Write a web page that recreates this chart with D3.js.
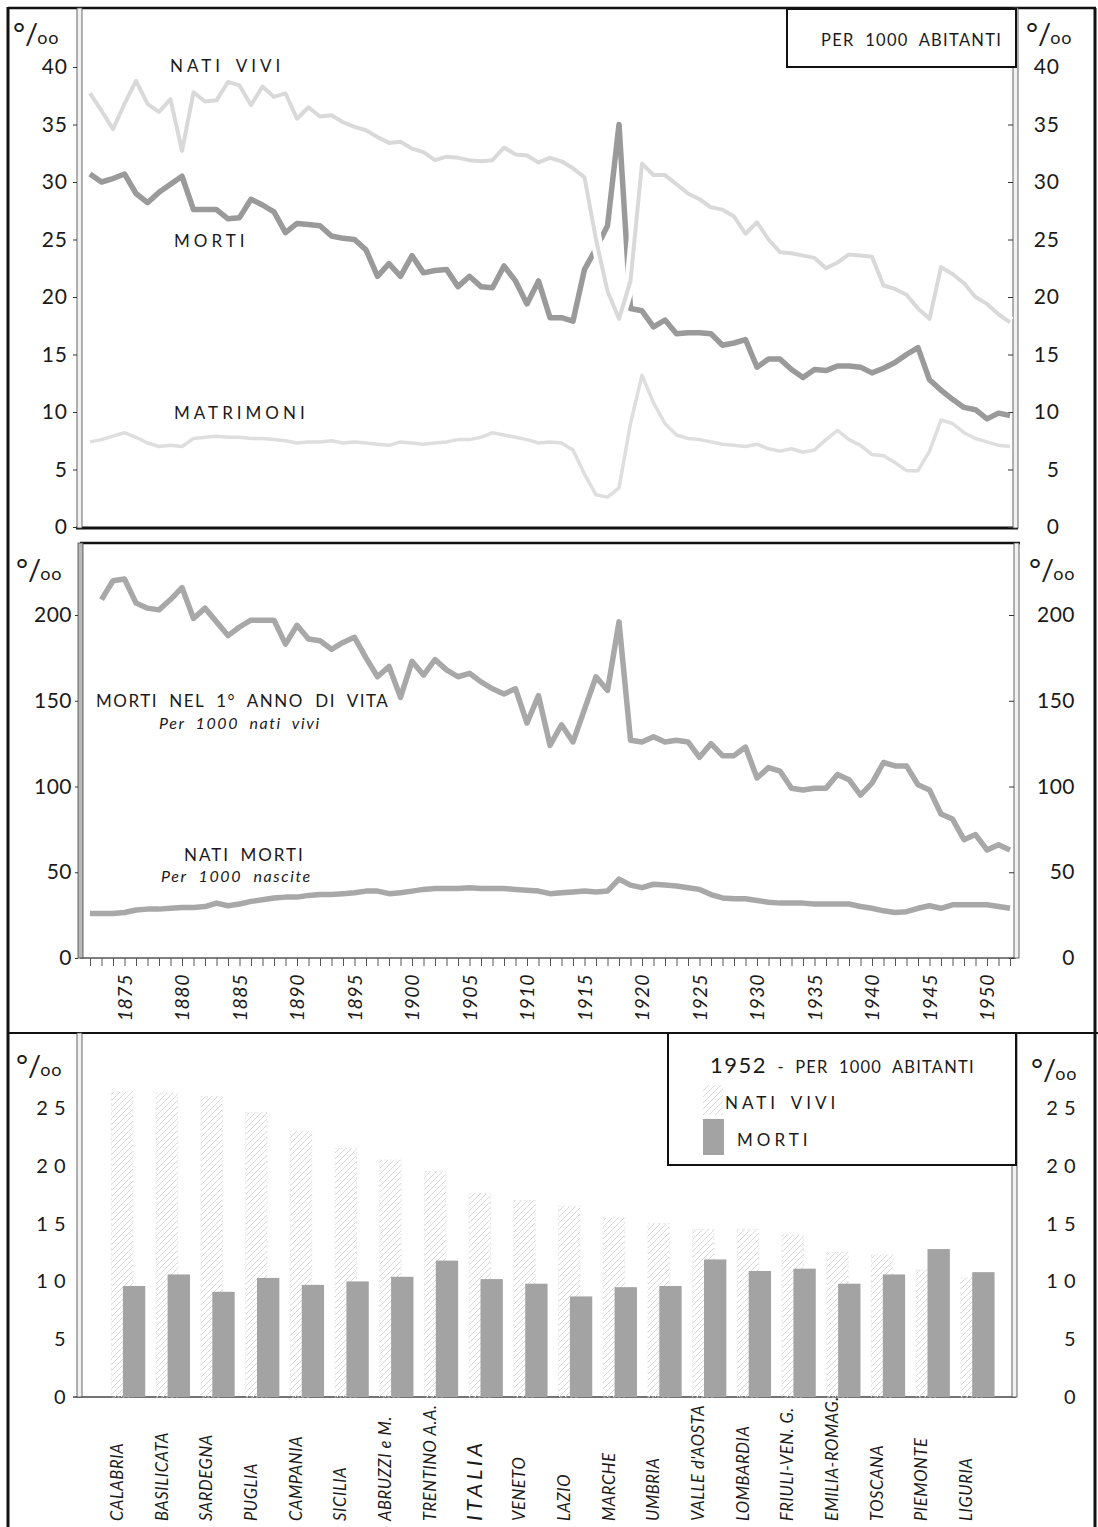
<!DOCTYPE html>
<html>
<head>
<meta charset="utf-8">
<script src="https://cdn.jsdelivr.net/npm/d3@7"></script>
<style>
  body { margin: 0; background: #fff; }
  svg text { font-family: Lato, "DejaVu Sans", sans-serif; fill: #1a1a1a; }
</style>
</head>
<body>
<div id="viz"></div>
<script>
// anni 1872-1952
var years = d3.range(1872, 1953);

// per 1000 abitanti
var natiVivi = [37.7, 36.2, 34.6, 36.8, 38.8, 36.8, 36.1, 37.2, 32.7, 37.8,
  37.0, 37.1, 38.7, 38.4, 36.7, 38.3, 37.4, 37.7, 35.5, 36.5,
  35.7, 35.8, 35.2, 34.8, 34.5, 33.9, 33.4, 33.5, 32.9, 32.6,
  31.9, 32.2, 32.1, 31.9, 31.8, 31.9, 33.0, 32.4, 32.3, 31.7,
  32.1, 31.8, 31.2, 30.4, 25.0, 20.5, 18.1, 21.4, 31.6, 30.6,
  30.6, 29.8, 29.0, 28.5, 27.8, 27.6, 27.0, 25.5, 26.5, 25.0,
  23.9, 23.8, 23.6, 23.4, 22.5, 23.0, 23.7, 23.6, 23.5, 21.0,
  20.7, 20.2, 19.0, 18.1, 22.6, 22.0, 21.2, 20.0, 19.4, 18.5,
  17.8];

var morti = [30.7, 30.0, 30.3, 30.7, 29.0, 28.2, 29.1, 29.8, 30.5, 27.6,
  27.6, 27.6, 26.8, 26.9, 28.5, 28.0, 27.4, 25.6, 26.4, 26.3,
  26.2, 25.3, 25.1, 25.0, 24.1, 21.8, 22.9, 21.8, 23.6, 22.1,
  22.3, 22.4, 20.9, 21.8, 20.9, 20.8, 22.7, 21.4, 19.4, 21.4,
  18.2, 18.2, 17.9, 22.4, 24.2, 26.2, 35.0, 19.0, 18.8, 17.4,
  18.0, 16.8, 16.9, 16.9, 16.8, 15.8, 16.0, 16.3, 13.9, 14.6,
  14.6, 13.7, 13.0, 13.7, 13.6, 14.0, 14.0, 13.9, 13.4, 13.8,
  14.3, 15.0, 15.6, 12.8, 11.9, 11.1, 10.4, 10.2, 9.4, 9.9,
  9.7];

var matrimoni = [7.4, 7.6, 7.9, 8.2, 7.8, 7.3, 7.0, 7.1, 7.0, 7.7,
  7.8, 7.9, 7.8, 7.8, 7.7, 7.7, 7.6, 7.5, 7.3, 7.4,
  7.4, 7.5, 7.3, 7.4, 7.3, 7.2, 7.1, 7.4, 7.3, 7.2,
  7.3, 7.4, 7.6, 7.6, 7.8, 8.2, 8.0, 7.8, 7.6, 7.3,
  7.4, 7.3, 6.7, 4.6, 2.8, 2.6, 3.4, 9.0, 13.2, 10.8,
  9.0, 8.0, 7.7, 7.6, 7.4, 7.2, 7.1, 7.0, 7.2, 6.8,
  6.6, 6.8, 6.5, 6.7, 7.6, 8.4, 7.6, 7.1, 6.3, 6.2,
  5.6, 4.9, 4.9, 6.6, 9.3, 9.0, 8.2, 7.7, 7.4, 7.1,
  7.0];

// morti nel 1° anno di vita, per 1000 nati vivi (1872 mancante)
var mortiPrimoAnno = [null, 209, 220, 221, 207, 204, 203, 209, 216, 198,
  204, 196, 188, 193, 197, 197, 197, 183, 194, 186,
  185, 180, 184, 187, 175, 164, 170, 152, 173, 165,
  174, 168, 164, 166, 161, 157, 154, 157, 137, 153,
  124, 136, 126, 145, 164, 156, 196, 127, 126, 129,
  126, 127, 126, 117, 125, 118, 118, 123, 105, 111,
  109, 99, 98, 99, 99, 107, 104, 95, 102, 114,
  112, 112, 101, 98, 84, 81, 69, 72, 63, 66,
  63];

// nati morti, per 1000 nascite
var natiMorti = [26, 26, 26, 26.5, 28, 28.5, 28.5, 29, 29.5, 29.5,
  30, 32, 30.5, 31.5, 33, 34, 35, 35.5, 35.5, 36.5,
  37, 37, 37.5, 38, 39, 39, 37.5, 38, 39, 40,
  40.5, 40.5, 40.5, 41, 40.5, 40.5, 40.5, 40, 39.5, 39,
  37.5, 38, 38.5, 39, 38.5, 39, 46, 42.5, 41, 43,
  42.5, 42, 41, 40, 37, 35, 34.5, 34.5, 33.5, 32.5,
  32, 32, 32, 31.5, 31.5, 31.5, 31.5, 30, 29, 27.5,
  26.5, 27, 29, 30.5, 29, 31, 31, 31, 31, 30,
  29];

// 1952 - per 1000 abitanti, per regione
var regioni = ["CALABRIA", "BASILICATA", "SARDEGNA", "PUGLIA", "CAMPANIA", "SICILIA",
  "ABRUZZI e M.", "TRENTINO A.A.", "ITALIA", "VENETO", "LAZIO", "MARCHE", "UMBRIA",
  "VALLE d'AOSTA", "LOMBARDIA", "FRIULI-VEN. G.", "EMILIA-ROMAG.", "TOSCANA",
  "PIEMONTE", "LIGURIA"];
var natiVivi1952 = [26.4, 26.3, 26.0, 24.6, 23.0, 21.5, 20.5, 19.5, 17.6, 17.0,
  16.5, 15.5, 15.0, 14.5, 14.5, 14.0, 12.5, 12.3, 11.0, 10.3];
var morti1952 = [9.6, 10.6, 9.1, 10.3, 9.7, 10.0, 10.4, 11.8, 10.2, 9.8,
  8.7, 9.5, 9.6, 11.9, 10.9, 11.1, 9.8, 10.6, 12.8, 10.8];

var ticks1 = [0, 5, 10, 15, 20, 25, 30, 35, 40];
var ticks2 = [0, 50, 100, 150, 200];
var ticks3 = [0, 5, 10, 15, 20, 25];
var yearLabels = d3.range(1875, 1951, 5);

var width = 1098, height = 1527;

var svg = d3.select("#viz").append("svg")
  .attr("width", width)
  .attr("height", height);

var defs = svg.append("defs");
var hatch = defs.append("pattern")
  .attr("id", "hatch")
  .attr("patternUnits", "userSpaceOnUse")
  .attr("width", 6).attr("height", 6);
hatch.append("path")
  .attr("d", "M-1,7 L7,-1 M-1,1 L1,-1 M5,7 L7,5")
  .attr("stroke", "#dadada")
  .attr("stroke-width", 1);

var x = d3.scaleLinear().domain([1872, 1952]).range([90, 1010]);
var y1 = d3.scaleLinear().domain([0, 40]).range([527, 67]);
var y2 = d3.scaleLinear().domain([0, 200]).range([958, 615]);
var y3 = d3.scaleLinear().domain([0, 25]).range([1397, 1108]);
var xb = d3.scaleBand().domain(regioni).range([101, 995]);

function series(vals) {
  return years.map(function (yr, i) { return { year: yr, v: vals[i] }; });
}

// ---- cornici
var frame = svg.append("g").attr("stroke", "#111").attr("fill", "none");
frame.append("line").attr("x1", 8).attr("y1", 7).attr("x2", 8).attr("y2", 1527).attr("stroke-width", 3);
frame.append("line").attr("x1", 8).attr("y1", 8).attr("x2", 1096).attr("y2", 8).attr("stroke-width", 2.5);
frame.append("line").attr("x1", 1095).attr("y1", 8).attr("x2", 1095).attr("y2", 1527).attr("stroke-width", 3);
frame.append("line").attr("x1", 76).attr("y1", 528).attr("x2", 1018).attr("y2", 528).attr("stroke-width", 3);
frame.append("line").attr("x1", 80).attr("y1", 543).attr("x2", 1020).attr("y2", 543).attr("stroke-width", 2.5);
frame.append("line").attr("x1", 80).attr("y1", 958).attr("x2", 1016).attr("y2", 958).attr("stroke-width", 1.5).attr("stroke", "#555");
frame.append("line").attr("x1", 8).attr("y1", 1033).attr("x2", 1098).attr("y2", 1033).attr("stroke-width", 2);
frame.append("line").attr("x1", 73).attr("y1", 1397).attr("x2", 1016).attr("y2", 1397).attr("stroke-width", 1.5).attr("stroke", "#444");

// assi doppi verticali
var rails = [
  [77, 8, 520, "#f2f2f2"], [1013, 8, 520, "#f2f2f2"],
  [78, 543, 415, "#b8b8b8"], [1014, 543, 415, "#f2f2f2"],
  [77, 1033, 364, "#f2f2f2"], [1012, 1033, 364, "#f2f2f2"]
];
svg.append("g").selectAll("rect").data(rails).enter().append("rect")
  .attr("x", function (d) { return d[0]; })
  .attr("y", function (d) { return d[1]; })
  .attr("width", 5)
  .attr("height", function (d) { return d[2]; })
  .attr("fill", function (d) { return d[3]; })
  .attr("stroke", "#444")
  .attr("stroke-width", 0.8);

function styleAxis(g, size, spacing) {
  g.select(".domain").remove();
  g.selectAll("line").attr("stroke", "#333");
  g.selectAll("text")
    .style("font-family", "Lato, 'DejaVu Sans', sans-serif")
    .style("font-size", size + "px")
    .style("letter-spacing", spacing + "px")
    .attr("fill", "#1a1a1a");
}

function label(g, px, py, txt, size, ls, ws, italic) {
  return g.append("text").attr("x", px).attr("y", py).text(txt)
    .style("font-size", size + "px")
    .style("letter-spacing", ls + "px")
    .style("word-spacing", ws + "px")
    .style("font-style", italic ? "italic" : "normal");
}

// ---- pannello 1: per 1000 abitanti
svg.append("g").attr("transform", "translate(77,0)")
  .call(d3.axisLeft(y1).tickValues(ticks1).tickSize(4).tickPadding(5))
  .call(styleAxis, 21, 1);
svg.append("g").attr("transform", "translate(1013,0)")
  .call(d3.axisRight(y1).tickValues(ticks1).tickSize(-5).tickPadding(0))
  .call(styleAxis, 21, 1)
  .selectAll("text").attr("text-anchor", "end").attr("x", 47);

var p1 = svg.append("g");
var line1 = d3.line().defined(function (d) { return d.v != null; })
  .x(function (d) { return x(d.year); })
  .y(function (d) { return y1(d.v); });

p1.append("path").datum(series(matrimoni))
  .attr("d", line1).attr("fill", "none")
  .attr("stroke", "#dedede").attr("stroke-width", 3.5).attr("stroke-linejoin", "round");
p1.append("path").datum(series(morti))
  .attr("d", line1).attr("fill", "none")
  .attr("stroke", "#9a9a9a").attr("stroke-width", 5.5).attr("stroke-linejoin", "round");
p1.append("path").datum(series(natiVivi))
  .attr("d", line1).attr("fill", "none")
  .attr("stroke", "#fff").attr("stroke-width", 12).attr("stroke-linejoin", "round");
p1.append("path").datum(series(natiVivi))
  .attr("d", line1).attr("fill", "none")
  .attr("stroke", "#d9d9d9").attr("stroke-width", 4).attr("stroke-linejoin", "round");

label(p1, 170, 72, "NATI VIVI", 17, 4, 4);
label(p1, 174, 247, "MORTI", 17, 4, 0);
label(p1, 174, 419, "MATRIMONI", 17, 4, 0);

p1.append("rect").attr("x", 787).attr("y", 9).attr("width", 229).attr("height", 58)
  .attr("fill", "#fff").attr("stroke", "#111").attr("stroke-width", 2);
label(p1, 821, 46, "PER 1000 ABITANTI", 16.5, 1.3, 5);

function permille(g, px, py) {
  var t = g.append("text").attr("x", px).attr("y", py).style("font-size", "29px");
  t.append("tspan").text("°/");
  t.append("tspan").text("oo").style("font-size", "18px").style("letter-spacing", "1px").attr("dx", -1);
}
permille(svg, 13, 44);
permille(svg, 1026, 44);

// ---- pannello 2: mortalità infantile e natimortalità
svg.append("g").attr("transform", "translate(78,0)")
  .call(d3.axisLeft(y2).tickValues(ticks2).tickSize(3).tickPadding(3))
  .call(styleAxis, 21, 0.5);
svg.append("g").attr("transform", "translate(1014,0)")
  .call(d3.axisRight(y2).tickValues(ticks2).tickSize(-5).tickPadding(0))
  .call(styleAxis, 21, 0.5)
  .selectAll("text").attr("text-anchor", "end").attr("x", 61);

var line2 = d3.line().defined(function (d) { return d.v != null; })
  .x(function (d) { return x(d.year); })
  .y(function (d) { return y2(d.v); });

var p2 = svg.append("g");
p2.append("path").datum(series(natiMorti))
  .attr("d", line2).attr("fill", "none")
  .attr("stroke", "#a8a8a8").attr("stroke-width", 5.5).attr("stroke-linejoin", "round");
p2.append("path").datum(series(mortiPrimoAnno))
  .attr("d", line2).attr("fill", "none")
  .attr("stroke", "#a8a8a8").attr("stroke-width", 5.5).attr("stroke-linejoin", "round");

label(p2, 96, 707, "MORTI NEL 1° ANNO DI VITA", 17, 1.5, 5.5);
label(p2, 159, 729, "Per 1000 nati vivi", 16, 1.6, 5, true);
label(p2, 184, 861, "NATI MORTI", 17, 2, 4);
label(p2, 161, 882, "Per 1000 nascite", 16, 1.6, 6, true);

permille(svg, 16, 580);
permille(svg, 1029, 580);

// asse degli anni
var xAxis = svg.append("g").attr("transform", "translate(0,958)")
  .call(d3.axisBottom(x).tickValues(years).tickSize(8)
    .tickFormat(function (d) { return yearLabels.indexOf(d) >= 0 ? d : ""; }));
xAxis.call(styleAxis, 19.5, 0.5);
xAxis.selectAll("line").attr("stroke", "#555");
xAxis.selectAll("text")
  .attr("transform", "rotate(-90)")
  .attr("text-anchor", "end")
  .attr("x", -16).attr("y", 0).attr("dy", "0.35em")
  .style("font-style", "italic");

// ---- pannello 3: regioni 1952
svg.append("g").attr("transform", "translate(77,0)")
  .call(d3.axisLeft(y3).tickValues(ticks3).tickSize(0).tickPadding(11)
    .tickFormat(function (d) { return String(d).split("").join(" "); }))
  .call(styleAxis, 20, 0.5);
svg.append("g").attr("transform", "translate(1012,0)")
  .call(d3.axisRight(y3).tickValues(ticks3).tickSize(0).tickPadding(0)
    .tickFormat(function (d) { return String(d).split("").join(" "); }))
  .call(styleAxis, 20, 0.5)
  .selectAll("text").attr("text-anchor", "end").attr("x", 64);

var bw = xb.bandwidth();
var p3 = svg.append("g");
p3.selectAll(".nv").data(regioni).enter().append("rect")
  .attr("class", "nv")
  .attr("x", function (d) { return xb(d) + bw * 0.235; })
  .attr("width", bw * 0.48)
  .attr("y", function (d, i) { return y3(natiVivi1952[i]); })
  .attr("height", function (d, i) { return y3(0) - y3(natiVivi1952[i]); })
  .attr("fill", "url(#hatch)")
  .attr("stroke", "#e2e2e2").attr("stroke-width", 0.8).attr("stroke-dasharray", "2,3");
p3.selectAll(".mo").data(regioni).enter().append("rect")
  .attr("class", "mo")
  .attr("x", function (d) { return xb(d) + bw * 0.49; })
  .attr("width", bw * 0.5)
  .attr("y", function (d, i) { return y3(morti1952[i]); })
  .attr("height", function (d, i) { return y3(0) - y3(morti1952[i]); })
  .attr("fill", "#a3a3a3");

p3.selectAll(".lab").data(regioni).enter().append("text")
  .attr("class", "lab")
  .attr("transform", function (d) { return "translate(" + (xb(d) + bw * 0.36) + ",1521) rotate(-90)"; })
  .attr("dy", "0.35em")
  .style("font-style", "italic")
  .style("font-size", function (d) { return d === "ITALIA" ? "22px" : "16.5px"; })
  .style("letter-spacing", function (d) { return d === "ITALIA" ? "3.5px" : "0.6px"; })
  .text(function (d) { return d; });

// legenda
p3.append("rect").attr("x", 668).attr("y", 1033).attr("width", 348).attr("height", 132)
  .attr("fill", "#fff").attr("stroke", "#111").attr("stroke-width", 2);
var lt = p3.append("text").attr("x", 710).attr("y", 1073);
lt.append("tspan").text("1952").style("font-size", "22px").style("letter-spacing", "1.5px");
lt.append("tspan").text(" - PER 1000 ABITANTI").style("font-size", "16.5px")
  .style("letter-spacing", "1.2px").style("word-spacing", "5px");
p3.append("rect").attr("x", 703).attr("y", 1085).attr("width", 20).attr("height", 30)
  .attr("fill", "url(#hatch)");
label(p3, 725, 1109, "NATI VIVI", 17, 4, 4);
p3.append("rect").attr("x", 703).attr("y", 1119).attr("width", 21).attr("height", 36)
  .attr("fill", "#a3a3a3");
label(p3, 737, 1146, "MORTI", 17, 4, 0);

permille(svg, 16, 1076);
permille(svg, 1031, 1080);
</script>
</body>
</html>
